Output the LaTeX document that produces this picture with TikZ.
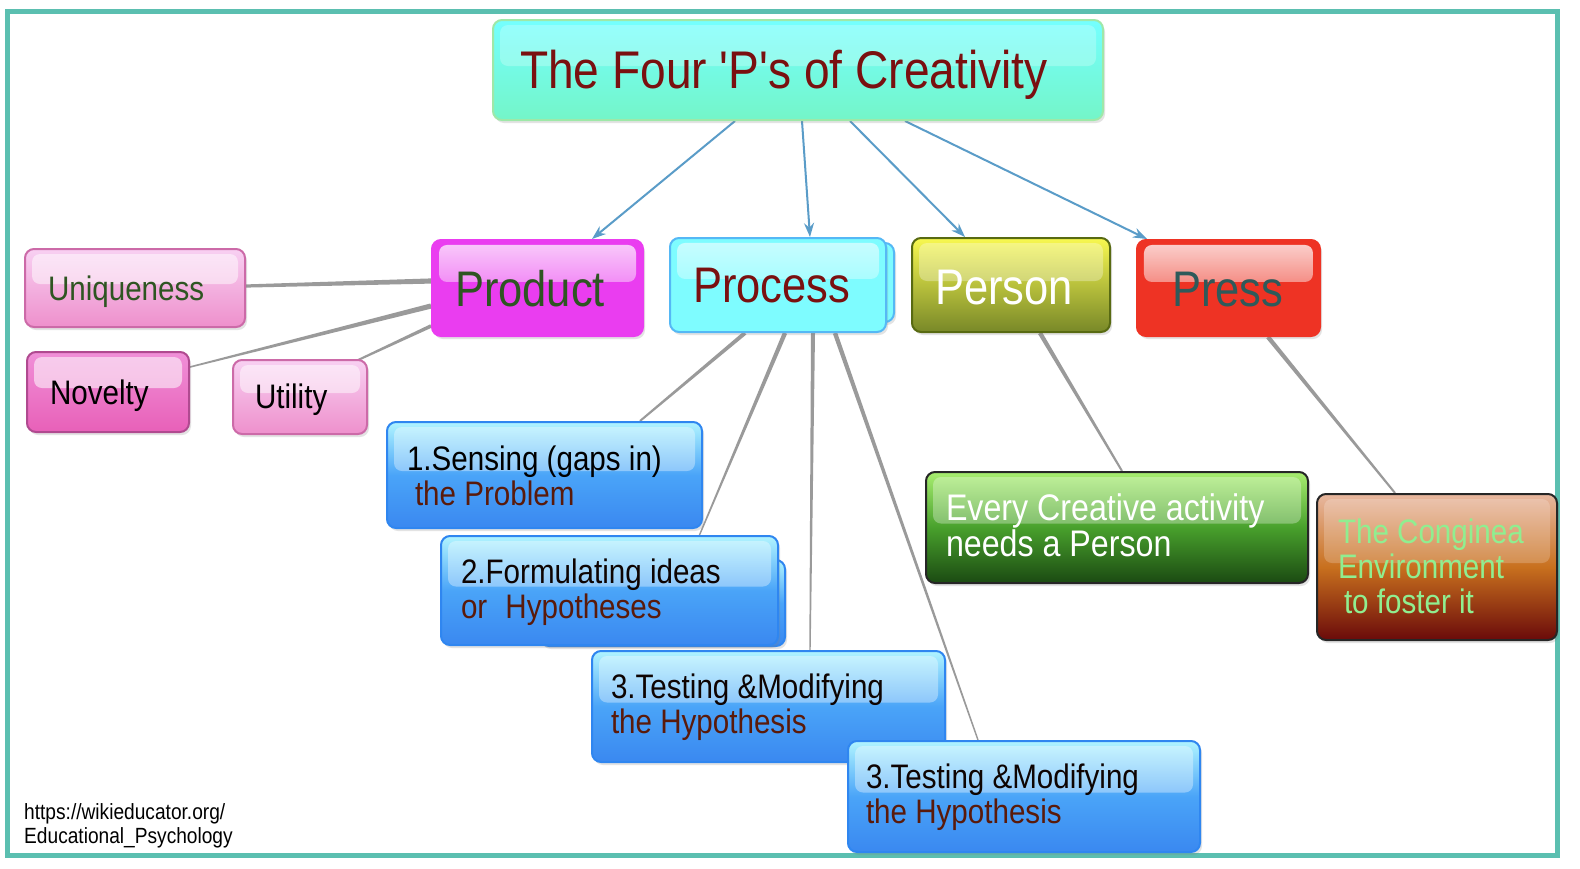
\documentclass[tikz,border=0pt]{standalone}
\usepackage{fontspec}
\setmainfont[FakeStretch=0.87, Ligatures=TeXOff]{Liberation Sans}
\usetikzlibrary{arrows.meta,shadows,backgrounds,fadings,calc}
\definecolor{framec}{HTML}{5BBFB0}
\definecolor{titletop}{HTML}{74FFFF}
\definecolor{titlebot}{HTML}{74F5C8}
\definecolor{titlebrd}{HTML}{9EE8A8}
\definecolor{maroon}{HTML}{7A1010}
\definecolor{prodfill}{HTML}{EA3DF0}
\definecolor{darkgreentext}{HTML}{2E5522}
\definecolor{procfill}{HTML}{7EFCFF}
\definecolor{procbrd}{HTML}{55B8F5}
\definecolor{perstop}{HTML}{F8F850}
\definecolor{persbot}{HTML}{788828}
\definecolor{persbrd}{HTML}{586A12}
\definecolor{pressfill}{HTML}{EE3324}
\definecolor{presstext}{HTML}{2E5A5A}
\definecolor{pinktop}{HTML}{F8D0F2}
\definecolor{pinkbot}{HTML}{EE90CC}
\definecolor{pinkbrd}{HTML}{CC6AA8}
\definecolor{novtop}{HTML}{F090D8}
\definecolor{novbot}{HTML}{E860B8}
\definecolor{novbrd}{HTML}{B04A90}
\definecolor{bluetop}{HTML}{B0F4FF}
\definecolor{bluemid}{HTML}{4AA4F8}
\definecolor{bluebot}{HTML}{3A88F0}
\definecolor{bluebrd}{HTML}{2F86F0}
\definecolor{steptext}{HTML}{5A1A0A}
\definecolor{greentop}{HTML}{A8EE70}
\definecolor{greenmid}{HTML}{48A02C}
\definecolor{greenbot}{HTML}{1B4A12}
\definecolor{browntop}{HTML}{E8B8A0}
\definecolor{brownmid}{HTML}{C8701E}
\definecolor{brownbot}{HTML}{6A0A0A}
\definecolor{browntext}{HTML}{90EE90}
\definecolor{arrowblue}{HTML}{5A9CC8}
\definecolor{linegray}{HTML}{9A9A9A}
\tikzset{
  box/.style={rectangle, rounded corners=9pt, line width=2pt, inner ysep=0pt,
    align=left, anchor=center,
    execute at begin node={\spaceskip=\fontdimen2\font\relax},
    drop shadow={opacity=0.22, shadow xshift=2pt, shadow yshift=-3pt}},
  gloss/.style={path picture={\fill[white, opacity=#1, rounded corners=8pt]
    ([xshift=7pt,yshift=-5pt]path picture bounding box.north west) rectangle
    ([xshift=-7pt,yshift=4pt]path picture bounding box.east);}},
  gloss/.default=0.45,
  glossfade/.style={path picture={\fill[white, fill opacity=#1, path fading=south, rounded corners=8pt]
    ([xshift=7pt,yshift=-5pt]path picture bounding box.north west) rectangle
    ([xshift=-7pt,yshift=6pt]path picture bounding box.east);}},
  fbig/.style={font=\fontsize{50}{55}\selectfont},
  fmid/.style={font=\fontsize{34}{35}\selectfont},
  bluebox/.style={box, top color=bluetop, bottom color=bluebot, middle color=bluemid, draw=bluebrd, gloss=0.35, fmid},
  pinkbox/.style={box, top color=pinktop, bottom color=pinkbot, draw=pinkbrd, gloss=0.5, fmid, text height=24pt, text depth=0pt},
  toparrow/.style={draw=arrowblue, line width=2pt, -{Stealth[length=14pt,width=10pt]}},
}
% tapered grey connector: from point #1 (half width #3) to point #2 (half width #4)
\newcommand\taperline[4]{%
  \fill[linegray] let \p1=(#1), \p2=(#2), \n1={atan2(\y2-\y1,\x2-\x1)} in
    ($(\p1)+(\n1+90:#3)$) -- ($(\p1)+(\n1-90:#3)$) --
    ($(\p2)+(\n1-90:#4)$) -- ($(\p2)+(\n1+90:#4)$) -- cycle;}
\begin{document}
\begin{tikzpicture}[x=1pt,y=-1pt]
\useasboundingbox (0,0) rectangle (1580,868);

% title
\node[box, top color=titletop, bottom color=titlebot, draw=titlebrd, gloss=0.25,
  inner xsep=27pt, text width=556pt, minimum height=100pt, text height=38pt, text depth=2pt,
  font=\fontsize{53}{58}\selectfont, text=maroon] (title) at (798,70) {The Four 'P's of Creativity};

% four P's
\node[box, fill=procfill, draw=procbrd, minimum width=204pt, minimum height=79pt] (procback) at (792,282.5) {};
\node[box, fill=prodfill, draw=prodfill, glossfade=0.75, inner xsep=23pt, text width=165pt,
  minimum height=96pt, text height=36pt, text depth=0pt, fbig, text=darkgreentext] (product) at (537.5,288) {Product};
\node[box, fill=procfill, draw=procbrd, glossfade=0.6, inner xsep=23pt, text width=170pt,
  minimum height=94pt, text height=34pt, text depth=0pt, fbig, text=maroon] (process) at (778,285) {Process};
\node[box, top color=perstop, bottom color=persbot, draw=persbrd, gloss=0.3, inner xsep=23pt, text width=152pt,
  minimum height=94pt, text height=38pt, text depth=0pt, fbig, text=white] (person) at (1011,285) {Person};
\node[box, fill=pressfill, draw=pressfill, glossfade=0.8, inner xsep=35pt, text width=113pt,
  minimum height=96pt, text height=36pt, text depth=0pt, fbig, text=presstext] (press) at (1228.5,288) {Press};

% product attributes
\node[pinkbox, inner xsep=23pt, text width=174pt, minimum height=78pt, text=darkgreentext] (uniq) at (135,288) {Uniqueness};
\node[box, top color=novtop, bottom color=novbot, draw=novbrd, gloss=0.55, fmid, text height=24pt, text depth=0pt,
  inner xsep=23pt, text width=116pt, minimum height=80pt, text=black] (nov) at (108,392) {Novelty};
\node[pinkbox, inner xsep=22pt, text width=90pt, minimum height=74pt, text depth=2pt, text=black] (util) at (300,397) {Utility};

% process steps
\node[bluebox, inner xsep=20pt, text width=275pt, minimum height=106pt, text height=25pt, text depth=35pt] (s1) at (544.5,475)
  {\color{black}1.Sensing (gaps in)\\\hspace*{8pt}\color{steptext}the Problem};
\node[bluebox, minimum width=245pt, minimum height=86pt] (s2back) at (662.5,603) {};
\node[bluebox, inner xsep=20pt, text width=297pt, minimum height=109pt, text height=25pt, text depth=40pt] (s2) at (609.5,590.5)
  {\color{black!85!steptext}2.Formulating ideas\\\color{steptext}or\hspace{10pt} Hypotheses};
\node[bluebox, inner xsep=19pt, text width=315pt, minimum height=111pt, text height=25pt, text depth=42pt] (s3) at (768.5,706.5)
  {\color{black!85!steptext}3.Testing \&Modifying\\\color{steptext}the Hypothesis};
\node[bluebox, inner xsep=18pt, text width=316pt, minimum height=111pt, text height=25pt, text depth=42pt] (s4) at (1024,796.5)
  {\color{black!85!steptext}3.Testing \&Modifying\\\color{steptext}the Hypothesis};

% person / press details
\node[box, top color=greentop, bottom color=greenbot, middle color=greenmid, draw=black!85, gloss=0.3,
  inner xsep=20pt, text width=342pt, minimum height=111pt, text height=26pt, text depth=40pt,
  font=\fontsize{37}{36}\selectfont, text=white] (green) at (1117,527.5)
  {Every Creative activity\\needs a Person};
\node[box, top color=browntop, bottom color=brownbot, middle color=brownmid, draw=black!85, gloss=0.2,
  inner xsep=21pt, text width=198pt, minimum height=146pt, text height=24pt, text depth=72pt,
  font=\fontsize{34}{35}\selectfont, text=browntext] (brown) at (1437,567)
  {The Conginea\\Environment\\\hspace*{6pt}to foster it};

% footer
\node[anchor=north west, inner sep=0pt, align=left, font=\fontsize{22}{24}\selectfont,
  execute at begin node={\spaceskip=\fontdimen2\font\relax}] (src) at (24,803)
  {https://wikieducator.org/\\Educational\_Psychology};

\begin{scope}[on background layer]
\draw[framec, line width=5pt, fill=white] (7,11) rectangle (1557,855);

\draw[toparrow] ([xshift=-63pt]title.south) -- ([xshift=54.5pt]product.north);
\draw[toparrow] ([xshift=4pt]title.south) -- ([xshift=32pt]process.north);
\draw[toparrow] ([xshift=52pt]title.south) -- ([xshift=-46pt]person.north);
\draw[toparrow] ([xshift=107pt]title.south) -- ([xshift=-81.5pt]press.north);

\taperline{[yshift=7pt]product.west}{[yshift=2pt]uniq.east}{2.6pt}{1.6pt}
\taperline{[yshift=-18pt]product.west}{[yshift=-16pt]nov.north east}{2.6pt}{0.8pt}
\taperline{[yshift=-38pt]product.west}{[xshift=-12pt,yshift=-2pt]util.north east}{1.8pt}{1pt}
\taperline{[xshift=-33pt]process.south}{[xshift=95.5pt]s1.north}{2pt}{1pt}
\taperline{[xshift=7pt]process.south}{[xshift=90pt]s2.north}{2.2pt}{0.7pt}
\taperline{[xshift=35pt]process.south}{[xshift=41.5pt]s3.north}{2pt}{0.7pt}
\taperline{[xshift=57pt]process.south}{[xshift=-46pt]s4.north}{2.2pt}{0.7pt}
\taperline{[xshift=29pt]person.south}{[xshift=5pt]green.north}{2.2pt}{1pt}
\taperline{[xshift=39.5pt]press.south}{[xshift=-42pt]brown.north}{2.2pt}{1pt}
\end{scope}
\end{tikzpicture}
\end{document}
